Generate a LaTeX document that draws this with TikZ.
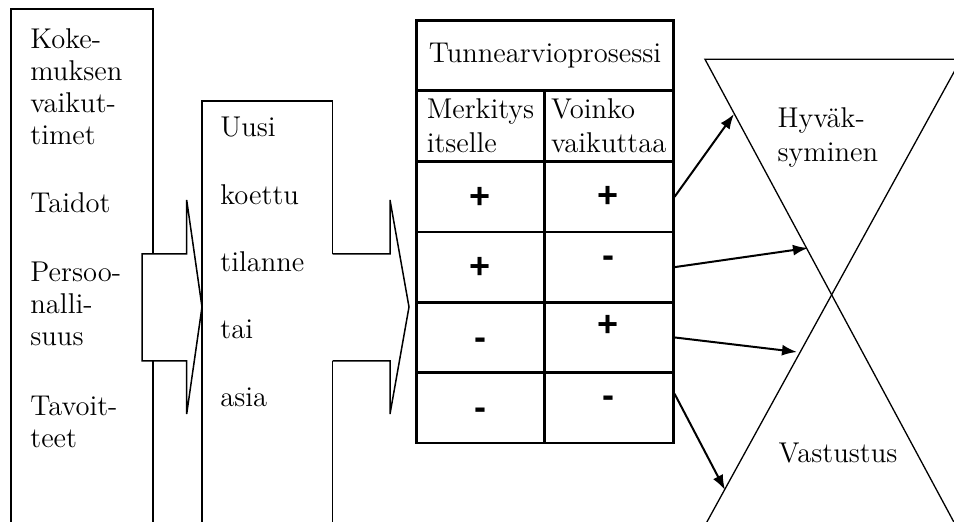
\documentclass[tikz,border=0pt]{standalone}
\usepackage{fontspec}
\newfontfamily\signfont{Liberation Sans}
\usetikzlibrary{arrows.meta, calc}
\tikzset{
	boxtext/.style={anchor=base west, inner sep=0pt, font=\fontsize{14.3}{17}\selectfont}
}
\tikzset{
	cell/.style={draw, line width=1.25pt, inner sep=0pt, minimum height=35.15pt, font=\fontsize{14.3}{17}\selectfont}
}
\tikzset{
	signtext/.style={anchor=base, inner sep=0pt, font=\signfont\bfseries\fontsize{18}{18}\selectfont}
}
\tikzset{
	reacharrow/.style={line width=1pt, -{Latex[length=7.5pt,width=5.5pt]}}
}
\begin{document}
\begin{tikzpicture}[x=0.5pt, y=-0.5pt]

			\useasboundingbox (0,0) rectangle (954,522);
			\clip (0,0) rectangle (954,522);

			\begin{scope}[line width=0.75pt]
				\draw (11,530) -- (11,9) -- (153,9) -- (153,530);
				\draw (202,530) -- (202,101) -- (332.7,101) -- (332.7,530);

				\draw[fill=white] (142,254) -- (186.7,254) -- (186.7,200) -- (202,307) -- (186.7,414) -- (186.7,361) -- (142,361) -- cycle;
				\fill[white] (331,254) rectangle (390,361);
				\draw (332.7,254) -- (390,254) -- (390,200) -- (409,307) -- (390,414) -- (390,361) -- (332.7,361);
			\end{scope}

			\begin{scope}
				\node[boxtext] (k1) at (30,49) {Koke-};
				\node[boxtext] (k2) at (30,81) {muksen};
				\node[boxtext] (k3) at (30,113) {vaikut-};
				\node[boxtext] (k4) at (30,145) {timet};
				\node[boxtext] (k5) at (30,213) {Taidot};
				\node[boxtext] (k6) at (30,282) {Persoo-};
				\node[boxtext] (k7) at (30,314) {nalli-};
				\node[boxtext] (k8) at (30,346) {suus};
				\node[boxtext] (k9) at (30,416) {Tavoit-};
				\node[boxtext] (k10) at (30,448) {teet};

				\node[boxtext] (u1) at (220,137) {Uusi};
				\node[boxtext] (u2) at (220,205) {koettu};
				\node[boxtext] (u3) at (220,272) {tilanne};
				\node[boxtext] (u4) at (220,339) {tai};
				\node[boxtext] (u5) at (220,407) {asia};
			\end{scope}

			\begin{scope}
				\node[cell, minimum width=128.3pt, minimum height=35pt] (hd) at (545,55.7) {Tunnearvioprosessi};
				\node[cell, minimum width=63.8pt, minimum height=35.5pt, align=left] (m1) at (480.5,126.2) {Merkitys\\itselle};
				\node[cell, minimum width=64.5pt, minimum height=35.5pt, align=left] (v1) at (608.8,126.2) {Voinko\\vaikuttaa};

				\node[cell, minimum width=63.8pt] (a1) at (480.5,196.85) {};
				\node[cell, minimum width=63.8pt] (a2) at (480.5,267.15) {};
				\node[cell, minimum width=63.8pt] (a3) at (480.5,337.45) {};
				\node[cell, minimum width=63.8pt] (a4) at (480.5,407.75) {};
				\node[cell, minimum width=64.5pt] (b1) at (608.8,196.85) {};
				\node[cell, minimum width=64.5pt] (b2) at (608.8,267.15) {};
				\node[cell, minimum width=64.5pt] (b3) at (608.8,337.45) {};
				\node[cell, minimum width=64.5pt] (b4) at (608.8,407.75) {};

				\node[signtext] (s1) at (480.5,208.7) {+};
				\node[signtext] (s2) at (608.5,208) {+};
				\node[signtext] (s3) at (480.5,278.7) {+};
				\node[signtext] (s4) at (608.5,267.5) {-};
				\node[signtext] (s5) at (480.5,349.5) {-};
				\node[signtext] (s6) at (608.5,337) {+};
				\node[signtext] (s7) at (480.5,420) {-};
				\node[signtext] (s8) at (608.5,408) {-};
			\end{scope}

			\begin{scope}[line width=0.65pt]
				\draw (961,59.3) -- (705,59.3) -- (963.5,540);
				\draw (961,59.3) -- (697,540);

				\node[boxtext] (h1) at (777,128) {Hyväk-};
				\node[boxtext] (h2) at (777,162) {syminen};
				\node[boxtext] (h3) at (778,463) {Vastustus};
			\end{scope}

			\coordinate (e1) at (734,114);
			\coordinate (e2) at (808,248);
			\coordinate (e3) at (797,352);
			\coordinate (e4) at (725,490);

			\draw[reacharrow] (b1.east) -- (e1);
			\draw[reacharrow] (b2.east) -- (e2);
			\draw[reacharrow] (b3.east) -- (e3);
			\draw[reacharrow] ([yshift=7pt]b4.east) -- (e4);

		\end{tikzpicture}
\end{document}
